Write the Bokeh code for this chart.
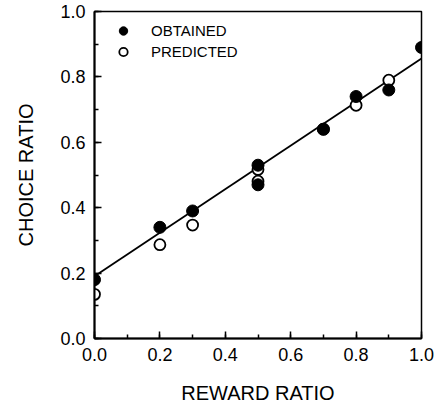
from bokeh.plotting import figure
from bokeh.models import Range1d, Legend, LegendItem, SingleIntervalTicker, CustomJSTickFormatter
from bokeh.embed import file_html
from bokeh.resources import INLINE

# Data
reward_obtained = [0.0, 0.2, 0.3, 0.5, 0.5, 0.7, 0.8, 0.9, 1.0]
choice_obtained = [0.18, 0.34, 0.39, 0.53, 0.47, 0.64, 0.74, 0.76, 0.89]
reward_predicted = [0.0, 0.2, 0.3, 0.5, 0.5, 0.7, 0.8, 0.9]
choice_predicted = [0.135, 0.287, 0.347, 0.517, 0.481, 0.64, 0.713, 0.79]
fit_x = [0.0, 1.0]
fit_y = [0.19, 0.856]

FONT = "Liberation Sans"

p = figure(width=435, height=406, output_backend="svg", toolbar_location=None,
           x_range=Range1d(0, 1), y_range=Range1d(0, 1),
           min_border_left=94, min_border_right=14, min_border_top=11, min_border_bottom=66)
p.grid.visible = False
p.background_fill_color = "white"
p.border_fill_color = "white"
p.outline_line_color = "black"
p.outline_line_width = 1.5

fmt = CustomJSTickFormatter(code="return tick.toFixed(1);")
for ax in (p.xaxis[0], p.yaxis[0]):
    ax.ticker = SingleIntervalTicker(interval=0.2, num_minor_ticks=2)
    ax.formatter = fmt
    ax.major_tick_in = 7
    ax.major_tick_out = 0
    ax.minor_tick_in = 4
    ax.minor_tick_out = 0
    ax.axis_line_width = 2
    ax.major_tick_line_width = 1.5
    ax.minor_tick_line_width = 1.5
    ax.major_label_text_font = FONT
    ax.major_label_text_font_size = "18px"
    ax.major_label_text_color = "black"
    ax.axis_label_text_font = FONT
    ax.axis_label_text_font_size = "20px"
    ax.axis_label_text_font_style = "normal"
    ax.axis_label_text_color = "black"
    ax.major_label_standoff = 9

p.xaxis.axis_label = "REWARD RATIO"
p.yaxis.axis_label = "CHOICE RATIO"
p.xaxis.axis_label_standoff = 18
p.yaxis.axis_label_standoff = 20

p.line(fit_x, fit_y, line_color="black", line_width=1.8)
r_pred = p.scatter(reward_predicted, choice_predicted, size=11, marker="circle",
                   fill_color="white", line_color="black", line_width=1.8)
r_obt = p.scatter(reward_obtained, choice_obtained, size=12, marker="circle",
                  fill_color="black", line_color="black")

legend = Legend(items=[LegendItem(label="OBTAINED", renderers=[r_obt]),
                       LegendItem(label="PREDICTED", renderers=[r_pred])],
                location="top_left", margin=9, padding=10,
                glyph_width=40, glyph_height=21, label_height=21,
                label_standoff=8, spacing=0,
                label_text_font=FONT, label_text_font_size="15px",
                label_text_color="black",
                border_line_color=None, background_fill_alpha=0)
p.add_layout(legend)

open("out.html", "w").write(file_html(p, INLINE))
